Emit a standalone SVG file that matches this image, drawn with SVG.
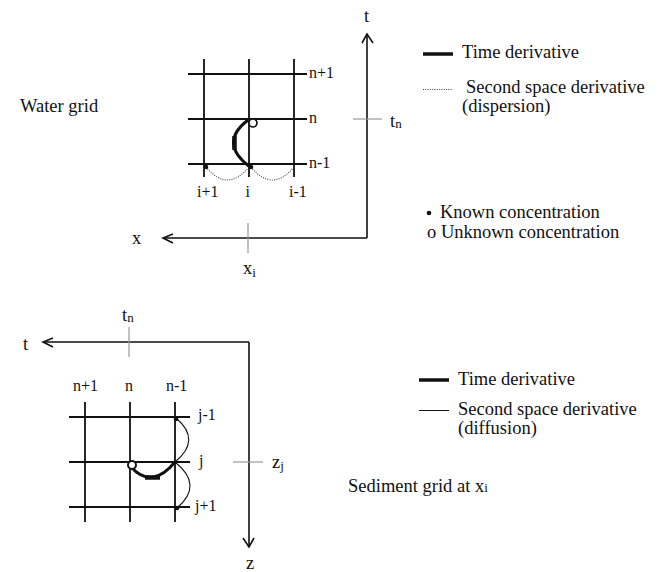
<svg xmlns="http://www.w3.org/2000/svg" width="662" height="572" viewBox="0 0 662 572">
<style>
text{font-family:"Liberation Serif","DejaVu Serif","Times New Roman",serif;fill:#111;font-size:18.5px}
.g{font-size:16px}
.sub{font-size:13px}
.grid{stroke:#111;stroke-width:1.8;fill:none}
.axis{stroke:#111;stroke-width:1.6;fill:none}
.tick{stroke:#999;stroke-width:1.2}
.thick{stroke:#111;stroke-width:3;fill:none}
.thin{stroke:#111;stroke-width:1.1;fill:none}
.dot{stroke:#444;stroke-width:1.1;fill:none;stroke-dasharray:1 1.3}
</style>
<rect width="662" height="572" fill="#fff"/>

<g id="water-title"><text x="20" y="112">Water grid</text></g>

<g id="water-grid">
<path class="grid" d="M204,59V177M249,59V177M294,59V177M188,74H307M188,119H307M188,164H307"/>
<text class="g" x="309" y="78">n+1</text>
<text class="g" x="309" y="123">n</text>
<text class="g" x="309" y="168">n-1</text>
<text class="g" x="197" y="197">i+1</text>
<text class="g" x="245.5" y="197">i</text>
<text class="g" x="289" y="197">i-1</text>
</g>

<g id="water-axes">
<path class="axis" d="M367,238V34M163,238H367"/>
<path class="axis" d="M362,43L367,34L373,43M173,234L163,238L173,243"/>
<text x="364" y="22">t</text>
<text x="132" y="244">x</text>
<line class="tick" x1="248" y1="223" x2="248" y2="253"/>
<text x="243" y="274">x<tspan class="sub" dy="3">i</tspan></text>
<line class="tick" x1="353" y1="119" x2="382" y2="119"/>
<text x="390" y="127">t<tspan class="sub" dy="1">n</tspan></text>
</g>

<g id="water-stencil">
<path class="dot" d="M206,167Q227.5,193 249,167M251,167Q272,193 294,167"/>
<path class="thick" d="M250,167Q218,143 248,120"/>
<line x1="234.5" y1="136" x2="234.5" y2="150" stroke="#111" stroke-width="4.5"/>
<circle cx="206" cy="167" r="2.3" fill="#111"/>
<circle cx="251" cy="167" r="2.3" fill="#111"/>
<circle cx="253" cy="123" r="4" fill="#fff" stroke="#111" stroke-width="1.6"/>
</g>

<g id="water-legend">
<line x1="423" y1="54" x2="453" y2="54" stroke="#111" stroke-width="3.5"/>
<text x="462" y="57.5">Time derivative</text>
<line class="dot" x1="423" y1="89.5" x2="452" y2="89.5"/>
<text x="466" y="93">Second space derivative</text>
<text x="462" y="112">(dispersion)</text>
<circle cx="429" cy="213" r="2.3" fill="#111"/>
<text x="440" y="217.5">Known concentration</text>
<text x="427" y="237.5">o Unknown concentration</text>
</g>

<g id="sediment-axes">
<path class="axis" d="M249,342H43M249,342V547"/>
<path class="axis" d="M53,338L43,342L53,347M243,538L249,547L254,538"/>
<text x="23" y="350">t</text>
<line class="tick" x1="129" y1="327" x2="129" y2="357"/>
<text x="122" y="321">t<tspan class="sub" dy="1">n</tspan></text>
<line class="tick" x1="233" y1="462" x2="263" y2="462"/>
<text x="272" y="468">z<tspan class="sub" dy="2">j</tspan></text>
<text x="246" y="569">z</text>
</g>

<g id="sediment-grid">
<path class="grid" d="M85,402V522M130,402V522M175,402V522M69,417H190M69,462H190M69,507H190"/>
<text class="g" x="73" y="391">n+1</text>
<text class="g" x="125" y="391">n</text>
<text class="g" x="166" y="391">n-1</text>
<text class="g" x="198" y="420">j-1</text>
<text class="g" x="199" y="466">j</text>
<text class="g" x="195" y="511">j+1</text>
</g>

<g id="sediment-stencil">
<path class="thin" d="M176,418Q202,440 175,462M175,462Q204,485 177,508"/>
<path class="thick" d="M131,467Q152,490 175,462"/>
<line x1="145" y1="477.5" x2="160" y2="477.5" stroke="#111" stroke-width="4.5"/>
<circle cx="176" cy="419" r="2.3" fill="#111"/>
<circle cx="177" cy="508" r="2.3" fill="#111"/>
<circle cx="132" cy="465" r="4" fill="#fff" stroke="#111" stroke-width="2"/>
</g>

<g id="sediment-legend">
<line x1="419" y1="380" x2="449" y2="380" stroke="#111" stroke-width="3.5"/>
<text x="458" y="385">Time derivative</text>
<line x1="419" y1="410.5" x2="449" y2="410.5" stroke="#111" stroke-width="1"/>
<text x="458" y="414.5">Second space derivative</text>
<text x="458" y="433.5">(diffusion)</text>
</g>

<g id="sediment-title"><text x="348" y="492">Sediment grid at x<tspan class="sub">i</tspan></text></g>
</svg>
